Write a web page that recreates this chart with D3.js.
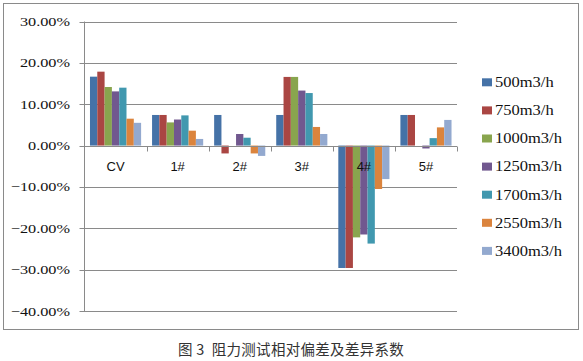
<!DOCTYPE html>
<html><head><meta charset="utf-8">
<script src="https://cdn.jsdelivr.net/npm/d3@7"></script>
<style>body{margin:0;background:#fff}svg{display:block}</style>
</head><body><svg id="c" width="583" height="361"></svg>
<script>
const categories = ["CV","1#","2#","3#","4#","5#"];
const seriesNames = ["500m3/h","750m3/h","1000m3/h","1250m3/h","1700m3/h","2550m3/h","3400m3/h"];
const s500  = [0.1666, 0.074, 0.074, 0.074, -0.296, 0.074];
const s750  = [0.1787, 0.074, -0.019, 0.166, -0.296, 0.074];
const s1000 = [0.1416, 0.056, 0.0, 0.166, -0.222, 0.0];
const s1250 = [0.131, 0.063, 0.028, 0.133, -0.215, -0.007];
const s1700 = [0.140, 0.073, 0.019, 0.127, -0.237, 0.018];
const s2550 = [0.065, 0.036, -0.019, 0.045, -0.105, 0.044];
const s3400 = [0.055, 0.016, -0.025, 0.028, -0.081, 0.062];
const yTicks = [0.3,0.2,0.1,0,-0.1,-0.2,-0.3,-0.4];
const colors = ["#4572A7","#AA4643","#89A54E","#71588F","#4198AF","#DB843D","#93A9CF"];
const caption = "图 3  阻力测试相对偏差及差异系数";

const allSeries = [s500,s750,s1000,s1250,s1700,s2550,s3400];
const svg = d3.select("#c");
const L = 84.5, R = 457, T = 21.5, B = 311;
const y = d3.scaleLinear().domain([-0.4,0.3]).range([B,T]);
const x0 = d3.scaleBand().domain(categories).range([L,R]).padding(0);
const x1 = d3.scaleBand().domain(seriesNames).range([0,x0.bandwidth()]).paddingInner(0).paddingOuter(0.75);

svg.append("rect").attr("x",3.5).attr("y",3.5).attr("width",575).attr("height",326)
  .attr("fill","#fff").attr("stroke","#8a8a8a").attr("stroke-width",1);

svg.append("g").selectAll("line").data(yTicks).join("line")
  .attr("x1",L-5).attr("x2",R).attr("y1",d=>Math.round(y(d))+0.5).attr("y2",d=>Math.round(y(d))+0.5)
  .attr("stroke","#8a8a8a").attr("stroke-width",1);

const fmt = d3.format(".2%");
svg.append("g").selectAll("text").data(yTicks).join("text")
  .attr("transform",d=>`translate(70,${y(d)+4.5}) scale(1.25,1)`)
  .attr("text-anchor","end").attr("font-family","'Liberation Serif', 'DejaVu Serif', serif").attr("font-size",13)
  .attr("fill","#111").text(d=>fmt(d));

const g = svg.append("g");
categories.forEach((c,ci)=>{
  allSeries.forEach((s,si)=>{
    const v = s[ci];
    g.append("rect")
      .attr("x",x0(c)+x1(seriesNames[si]))
      .attr("width",x1.bandwidth())
      .attr("y",y(Math.max(0,v)))
      .attr("height",Math.abs(y(v)-y(0)))
      .attr("fill",colors[si]);
  });
});

svg.append("line").attr("x1",L).attr("x2",L).attr("y1",T).attr("y2",B+0.5)
  .attr("stroke","#8a8a8a");
const y0 = Math.round(y(0))+0.5;
svg.append("line").attr("x1",L).attr("x2",R).attr("y1",y0).attr("y2",y0).attr("stroke","#8a8a8a");
svg.append("g").selectAll("line").data(categories.slice(1).concat(["_end"])).join("line")
  .attr("x1",(d,i)=>Math.round(L+x0.step()*(i+1))+0.5).attr("x2",(d,i)=>Math.round(L+x0.step()*(i+1))+0.5)
  .attr("y1",y0).attr("y2",y0+5).attr("stroke","#8a8a8a");

svg.append("g").selectAll("text").data(categories).join("text")
  .attr("x",d=>x0(d)+x0.bandwidth()/2).attr("y",171)
  .attr("text-anchor","middle").attr("font-family","'Liberation Sans', sans-serif").attr("font-size",13)
  .attr("fill","#111").text(d=>d);

const lg = svg.append("g");
seriesNames.forEach((n,i)=>{
  const cy = 82.3 + i*28.1;
  lg.append("rect").attr("x",482).attr("y",cy-4).attr("width",10).attr("height",8).attr("fill",colors[i]);
  lg.append("text").attr("transform",`translate(495,${cy+4.8}) scale(1.18,1)`)
    .attr("font-family","'Liberation Serif', serif").attr("font-size",14).attr("fill","#111").text(n);
});

svg.append("text").attr("x",291).attr("y",355).attr("text-anchor","middle")
  .attr("font-family","'Noto Sans CJK SC'").attr("font-size",14.5).attr("letter-spacing",0.3)
  .style("white-space","pre").attr("fill","#333").text(caption);
</script></body></html>
